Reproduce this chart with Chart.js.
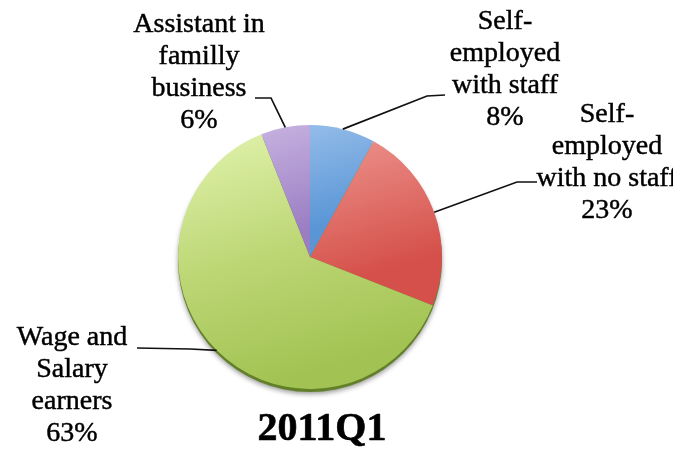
<!DOCTYPE html>
<html>
<head>
<meta charset="utf-8">
<script src="https://cdn.jsdelivr.net/npm/chart.js@4.4.1/dist/chart.umd.min.js"></script>
<style>
  html, body { margin: 0; padding: 0; background: #ffffff; }
  #wrap { width: 681px; height: 451px; position: relative; }
</style>
</head>
<body>
<div id="wrap"><canvas id="chart" width="681" height="451"></canvas></div>
<script>
// Employment status shares, 2011Q1
const categories = ['Self-employed with staff', 'Self-employed with no staff', 'Wage and Salary earners', 'Assistant in familly business'];
const labelLines = [
  ['Self-', 'employed', 'with staff'],
  ['Self-', 'employed', 'with no staff'],
  ['Wage and', 'Salary', 'earners'],
  ['Assistant in', 'familly', 'business']
];
const shares = [8, 23, 63, 6];
const chartTitle = '2011Q1';

// Slice shading: light top to darker bottom
const sliceGradients = [
  [['0', '#a9caf0'], ['0.5', '#5a96d6']],
  [['0', '#f6aca6'], ['0.72', '#d5504a']],
  [['0', '#e4f5b2'], ['0.55', '#bcd674'], ['1', '#a2c353']],
  [['0', '#d0bde6'], ['0.5', '#9a7dc3']]
];

// Callout placement for each slice label (text centre x, first line y, elbow path)
const callouts = [
  { x: 505, y: 22, path: [[445, 95], [427, 96]] },
  { x: 607, y: 115, path: [[537, 182], [517, 182]] },
  { x: 72, y: 338, path: [[137, 348], [190, 349]] },
  { x: 199, y: 25, path: [[255, 98], [271, 98]] }
];
const lineGap = 32;
const labelFont = '28px "Liberation Serif", "Times New Roman", serif';
const titleFont = 'bold 40px "Liberation Serif", "Times New Roman", serif';

function sliceFill(ctx) {
  const chart = ctx.chart;
  const area = chart.chartArea;
  const stops = sliceGradients[ctx.dataIndex];
  if (!area) return stops[stops.length - 1][1];
  const g = chart.ctx.createLinearGradient(area.left, area.top, area.left + area.width * 0.3, area.bottom);
  stops.forEach(([o, c]) => g.addColorStop(parseFloat(o), c));
  return g;
}

const pieShadow = {
  id: 'pieShadow',
  beforeDatasetsDraw(chart) {
    const arc = chart.getDatasetMeta(0).data[0];
    if (!arc) return;
    const { x, y, outerRadius } = arc.getProps(['x', 'y', 'outerRadius'], true);
    const c = chart.ctx;
    c.save();
    c.shadowColor = 'rgba(0,0,0,0.4)';
    c.shadowBlur = 5;
    c.shadowOffsetY = 2;
    c.fillStyle = '#62802a';
    c.beginPath();
    c.arc(x, y + 3, outerRadius, 0, Math.PI * 2);
    c.fill();
    c.restore();
  }
};

function drawText(c, t, x, y) {
  c.fillText(t, x, y);
  c.strokeText(t, x, y);
}

const callout = {
  id: 'callout',
  afterDatasetsDraw(chart) {
    const c = chart.ctx;
    const meta = chart.getDatasetMeta(0);
    c.save();
    // leader lines from each label elbow to the slice's outer mid-point
    meta.data.forEach((arc, i) => {
      const p = arc.getProps(['x', 'y', 'startAngle', 'endAngle', 'outerRadius'], true);
      const mid = (p.startAngle + p.endAngle) / 2;
      const ex = p.x + Math.cos(mid) * p.outerRadius;
      const ey = p.y + Math.sin(mid) * p.outerRadius;
      const pts = callouts[i].path;
      c.strokeStyle = '#111111';
      c.lineWidth = 1.7;
      c.beginPath();
      c.moveTo(pts[0][0], pts[0][1]);
      for (let k = 1; k < pts.length; k++) c.lineTo(pts[k][0], pts[k][1]);
      c.lineTo(ex, ey);
      c.stroke();
    });
    // label text, clipped at the plot's right edge
    c.beginPath();
    c.rect(0, 0, 673, chart.height);
    c.clip();
    c.fillStyle = '#000000';
    c.strokeStyle = '#000000';
    c.lineWidth = 0.45;
    c.font = labelFont;
    c.textAlign = 'center';
    c.textBaseline = 'middle';
    categories.forEach((name, i) => {
      const lines = labelLines[i].concat([shares[i] + '%']);
      lines.forEach((t, k) => drawText(c, t, callouts[i].x, callouts[i].y + k * lineGap));
    });
    c.restore();

    c.save();
    c.fillStyle = '#000000';
    c.strokeStyle = '#000000';
    c.lineWidth = 0.6;
    c.font = titleFont;
    c.textAlign = 'center';
    c.textBaseline = 'middle';
    drawText(c, chartTitle, 322, 430);
    c.restore();
  }
};

new Chart(document.getElementById('chart'), {
  type: 'pie',
  data: {
    labels: categories,
    datasets: [{
      data: shares,
      backgroundColor: sliceFill,
      borderWidth: 0,
      hoverOffset: 0
    }]
  },
  options: {
    responsive: false,
    animation: false,
    events: [],
    layout: { padding: { top: 125, bottom: 62, left: 178, right: 239 } },
    plugins: {
      legend: { display: false },
      tooltip: { enabled: false },
      title: { display: false }
    }
  },
  plugins: [pieShadow, callout]
});
</script>
</body>
</html>
